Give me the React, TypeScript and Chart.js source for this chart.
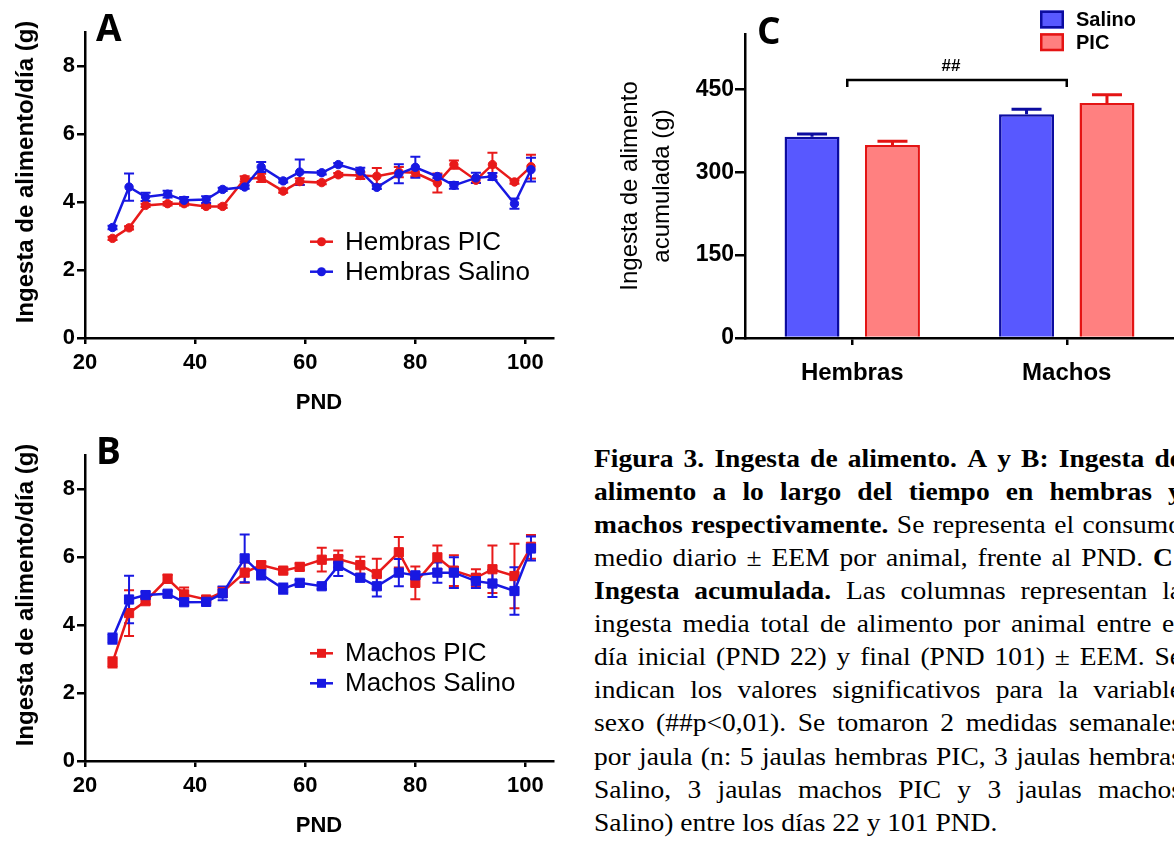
import React, { useEffect, useRef } from 'react';
import { Chart, registerables } from 'chart.js';

Chart.register(...registerables);

// ---------------- data ----------------
const pnd = [25, 28, 31, 35, 38, 42, 45, 49, 52, 56, 59, 63, 66, 70, 73, 77, 80, 84, 87, 91, 94, 98, 101];

const hembrasPIC = [2.93, 3.24, 3.9, 3.95, 3.95, 3.87, 3.87, 4.68, 4.71, 4.32, 4.6, 4.57, 4.8, 4.78, 4.76, 4.88, 4.86, 4.56, 5.1, 4.64, 5.1, 4.59, 5.04];
const hembrasPICErr = [0.05, 0.05, 0.05, 0.05, 0.05, 0.05, 0.05, 0.08, 0.12, 0.05, 0.1, 0.05, 0.05, 0.1, 0.24, 0.15, 0.1, 0.28, 0.12, 0.08, 0.35, 0.05, 0.35];
const hembrasSalino = [3.25, 4.44, 4.15, 4.23, 4.05, 4.07, 4.37, 4.44, 5.03, 4.62, 4.88, 4.86, 5.1, 4.91, 4.43, 4.83, 5.02, 4.75, 4.49, 4.71, 4.75, 3.95, 4.95];
const hembrasSalinoErr = [0.05, 0.4, 0.12, 0.1, 0.1, 0.1, 0.05, 0.05, 0.15, 0.05, 0.37, 0.05, 0.05, 0.1, 0.05, 0.28, 0.31, 0.05, 0.1, 0.15, 0.1, 0.15, 0.35];

const machosPIC = [2.9, 4.35, 4.7, 5.36, 4.9, 4.75, 4.97, 5.54, 5.76, 5.6, 5.71, 5.92, 5.94, 5.76, 5.5, 6.14, 5.24, 5.99, 5.6, 5.39, 5.64, 5.44, 6.3];
const machosPICErr = [0.15, 0.67, 0.08, 0.12, 0.2, 0.08, 0.15, 0.3, 0.1, 0.08, 0.1, 0.35, 0.25, 0.25, 0.45, 0.45, 0.48, 0.35, 0.45, 0.25, 0.7, 0.95, 0.35];
const machosSalino = [3.6, 4.75, 4.88, 4.92, 4.67, 4.68, 4.93, 5.96, 5.49, 5.07, 5.24, 5.14, 5.74, 5.39, 5.14, 5.54, 5.46, 5.54, 5.54, 5.29, 5.22, 5.0, 6.25];
const machosSalinoErr = [0.15, 0.7, 0.1, 0.08, 0.08, 0.1, 0.2, 0.7, 0.15, 0.15, 0.08, 0.08, 0.3, 0.1, 0.3, 0.4, 0.1, 0.3, 0.45, 0.2, 0.4, 0.7, 0.35];

const grupos = ['Hembras', 'Machos'];
const acumSalino = [364, 405];
const acumSalinoErr = [5, 9];
const acumPIC = [349, 425];
const acumPICErr = [7, 15];
const bracketLevel = 467;

const xTicksPND = [20, 40, 60, 80, 100];
const yTicksDiario = [0, 2, 4, 6, 8];
const yTicksAcum = [0, 150, 300, 450];

const captionLines: [string, boolean][][] = [
  [['Figura 3. Ingesta de alimento. A y B: Ingesta de', true]],
  [['alimento a lo largo del tiempo en hembras y', true]],
  [['machos respectivamente.', true], ['Se representa el consumo', false]],
  [['medio diario ± EEM por animal, frente al PND.', false], ['C:', true]],
  [['Ingesta acumulada.', true], ['Las columnas representan la', false]],
  [['ingesta media total de alimento por animal entre el', false]],
  [['día inicial (PND 22) y final (PND 101) ± EEM. Se', false]],
  [['indican los valores significativos para la variable', false]],
  [['sexo (##p<0,01). Se tomaron 2 medidas semanales', false]],
  [['por jaula (n: 5 jaulas hembras PIC, 3 jaulas hembras', false]],
  [['Salino, 3 jaulas machos PIC y 3 jaulas machos', false]],
  [['Salino) entre los días 22 y 101 PND.', false]],
];

// ---------------- style ----------------
const RED = '#e81a1a';
const BLUE = '#1818e2';
const SANS = '"Liberation Sans", Arial, sans-serif';

// ---------------- plugins ----------------
const errorBarsPlugin = {
  id: 'errorBars',
  beforeDatasetsDraw(chart: any, _args: any, o: any) {
    const ctx = chart.ctx;
    chart.data.datasets.forEach((ds: any, i: number) => {
      if (!ds.errors) return;
      const meta = chart.getDatasetMeta(i);
      const yScale = chart.scales[meta.yAxisID];
      ctx.save();
      ctx.strokeStyle = ds.borderColor;
      ctx.lineWidth = o.lineWidth || 2;
      meta.data.forEach((el: any, j: number) => {
        const raw = ds.data[j];
        const v = typeof raw === 'number' ? raw : raw.y;
        const e = ds.errors[j];
        const x = el.x;
        const yTop = yScale.getPixelForValue(v + e);
        const yBot = o.upOnly ? yScale.getPixelForValue(v) : yScale.getPixelForValue(v - e);
        const w = o.capHalf || 5;
        ctx.beginPath();
        ctx.moveTo(x, yTop);
        ctx.lineTo(x, yBot);
        ctx.moveTo(x - w, yTop);
        ctx.lineTo(x + w, yTop);
        if (!o.upOnly) {
          ctx.moveTo(x - w, yBot);
          ctx.lineTo(x + w, yBot);
        }
        ctx.stroke();
      });
      ctx.restore();
    });
  },
};

const seriesLegendPlugin = {
  id: 'seriesLegend',
  afterDraw(chart: any, _args: any, o: any) {
    if (!o || o.x === undefined) return;
    const ctx = chart.ctx;
    chart.data.datasets.forEach((ds: any, i: number) => {
      const y = o.y + i * o.gap;
      ctx.save();
      ctx.strokeStyle = ds.borderColor;
      ctx.lineWidth = 2.5;
      ctx.beginPath();
      ctx.moveTo(o.x, y);
      ctx.lineTo(o.x + o.lineLen, y);
      ctx.stroke();
      ctx.fillStyle = ds.borderColor;
      const cx = o.x + o.lineLen / 2;
      if (ds.pointStyle === 'rect') {
        const s = 4.5;
        ctx.fillRect(cx - s, y - s, 2 * s, 2 * s);
      } else {
        ctx.beginPath();
        ctx.arc(cx, y, 4.5, 0, Math.PI * 2);
        ctx.fill();
      }
      ctx.font = o.font;
      ctx.textBaseline = 'middle';
      ctx.textAlign = 'left';
      ctx.fillStyle = '#000';
      ctx.fillText(ds.label, o.textX, y + 1);
      ctx.restore();
    });
  },
};

const panelLabelPlugin = {
  id: 'panelLabel',
  afterDraw(chart: any, _args: any, o: any) {
    if (!o || !o.text) return;
    const ctx = chart.ctx;
    ctx.save();
    ctx.font = o.font;
    ctx.fillStyle = '#000';
    ctx.textBaseline = 'alphabetic';
    ctx.textAlign = 'left';
    ctx.fillText(o.text, o.x, o.y);
    ctx.restore();
  },
};

// rotated axis title, centred a little above the middle of the chart area
const sideTitlePlugin = {
  id: 'sideTitle',
  afterDraw(chart: any, _args: any, o: any) {
    if (!o || !o.text) return;
    const ctx = chart.ctx;
    const ca = chart.chartArea;
    ctx.save();
    ctx.translate(o.x, (ca.top + ca.bottom) / 2 + o.shift);
    ctx.rotate(-Math.PI / 2);
    ctx.font = o.font;
    ctx.fillStyle = '#000';
    ctx.textAlign = 'center';
    ctx.textBaseline = 'middle';
    ctx.fillText(o.text, 0, 0);
    ctx.restore();
  },
};

const bracketPlugin = {
  id: 'bracket',
  afterDraw(chart: any, _args: any, o: any) {
    if (!o || o.level === undefined) return;
    const ctx = chart.ctx;
    const xs = chart.scales.x;
    const ys = chart.scales.y;
    const x1 = xs.getPixelForValue(o.from) - 5;
    const x2 = xs.getPixelForValue(o.to);
    const y = ys.getPixelForValue(o.level);
    ctx.save();
    ctx.strokeStyle = '#000';
    ctx.lineWidth = 2.5;
    ctx.beginPath();
    ctx.moveTo(x1, y + o.drop);
    ctx.lineTo(x1, y);
    ctx.lineTo(x2, y);
    ctx.lineTo(x2, y + o.drop);
    ctx.stroke();
    ctx.font = o.font;
    ctx.fillStyle = '#000';
    ctx.textAlign = 'center';
    ctx.textBaseline = 'alphabetic';
    ctx.fillText(o.text, (x1 + x2) / 2 - 6, y - 9);
    ctx.restore();
  },
};

const boxLegendPlugin = {
  id: 'boxLegend',
  afterDraw(chart: any, _args: any, o: any) {
    if (!o || o.x === undefined) return;
    const ctx = chart.ctx;
    chart.data.datasets.forEach((ds: any, i: number) => {
      const top = o.y + i * o.gap;
      ctx.save();
      ctx.fillStyle = ds.backgroundColor;
      ctx.fillRect(o.x, top, o.w, o.h);
      ctx.strokeStyle = ds.borderColor;
      ctx.lineWidth = 2.5;
      ctx.strokeRect(o.x + 1.25, top + 1.25, o.w - 2.5, o.h - 2.5);
      ctx.font = o.font;
      ctx.fillStyle = '#000';
      ctx.textBaseline = 'middle';
      ctx.textAlign = 'left';
      ctx.fillText(ds.label, o.textX, top + o.h / 2 + 1);
      ctx.restore();
    });
  },
};

// ---------------- configs ----------------
const axisBorder = { display: true, color: '#000', width: 2.5 };

function lineConfig(
  labels: [string, string],
  pic: number[],
  picErr: number[],
  sal: number[],
  salErr: number[],
  pointStyle: string,
  panel: string,
  legendY: number
): any {
  const radius = pointStyle === 'rect' ? 6.5 : 4.2;
  return {
    type: 'line',
    data: {
      datasets: [
        {
          label: labels[0],
          data: pnd.map((x, i) => ({ x, y: pic[i] })),
          errors: picErr,
          borderColor: RED,
          backgroundColor: RED,
          pointBackgroundColor: RED,
          pointBorderColor: RED,
          pointStyle,
          pointRadius: radius,
          pointBorderWidth: 1,
          borderWidth: 2.5,
          tension: 0,
          order: 1,
        },
        {
          label: labels[1],
          data: pnd.map((x, i) => ({ x, y: sal[i] })),
          errors: salErr,
          borderColor: BLUE,
          backgroundColor: BLUE,
          pointBackgroundColor: BLUE,
          pointBorderColor: BLUE,
          pointStyle,
          pointRadius: radius,
          pointBorderWidth: 1,
          borderWidth: 2.5,
          tension: 0,
          order: 0,
        },
      ],
    },
    options: {
      animation: false,
      responsive: false,
      events: [],
      layout: { padding: { top: 32, right: 17, left: 0, bottom: 0 } },
      scales: {
        x: {
          type: 'linear',
          min: 20,
          max: 105,
          afterBuildTicks: (s: any) => {
            s.ticks = xTicksPND.map((v) => ({ value: v }));
          },
          afterFit: (s: any) => {
            s.height = 82;
          },
          border: axisBorder,
          grid: { display: true, drawOnChartArea: false, drawTicks: true, tickLength: 6, tickWidth: 2.5, lineWidth: 2.5, tickColor: '#000', color: '#000' },
          ticks: { color: '#000', padding: 6, font: { family: SANS, size: 22, weight: 'bold' } },
          title: { display: true, text: 'PND', color: '#000', font: { family: SANS, size: 22, weight: 'bold' }, padding: { top: 0, bottom: 4 } },
        },
        y: {
          min: 0,
          max: 9,
          afterBuildTicks: (s: any) => {
            s.ticks = yTicksDiario.map((v) => ({ value: v }));
          },
          afterFit: (s: any) => {
            s.width = 85;
          },
          border: axisBorder,
          grid: { display: true, drawOnChartArea: false, drawTicks: true, tickLength: 8, tickWidth: 2.5, lineWidth: 2.5, tickColor: '#000', color: '#000' },
          ticks: { color: '#000', padding: 2, font: { family: SANS, size: 22, weight: 'bold' } },
        },
      },
      plugins: {
        legend: { display: false },
        tooltip: { enabled: false },
        errorBars: { lineWidth: 2, capHalf: 5 },
        seriesLegend: { x: 310, y: legendY, gap: 30, lineLen: 23, textX: 345, font: `26px ${SANS}` },
        panelLabel: { text: panel, x: 96, y: 41, font: 'bold 37px "Open Sans", sans-serif' },
        sideTitle: { text: 'Ingesta de alimento/día (g)', x: 26, shift: -13, font: `bold 24px ${SANS}` },
      },
    },
    plugins: [errorBarsPlugin, seriesLegendPlugin, panelLabelPlugin, sideTitlePlugin],
  };
}

function barConfig(): any {
  return {
    type: 'bar',
    data: {
      labels: grupos,
      datasets: [
        {
          label: 'Salino',
          data: acumSalino,
          errors: acumSalinoErr,
          backgroundColor: '#5858ff',
          borderColor: '#0c0ca0',
          borderWidth: 2.5,
          categoryPercentage: 0.75,
          barPercentage: 0.683,
        },
        {
          label: 'PIC',
          data: acumPIC,
          errors: acumPICErr,
          backgroundColor: '#ff8080',
          borderColor: '#e41414',
          borderWidth: 2.5,
          categoryPercentage: 0.75,
          barPercentage: 0.683,
        },
      ],
    },
    options: {
      animation: false,
      responsive: false,
      events: [],
      layout: { padding: { top: 34, right: 0, left: 0, bottom: 0 } },
      scales: {
        x: {
          afterFit: (s: any) => {
            s.height = 82;
          },
          border: axisBorder,
          grid: { display: true, offset: false, drawOnChartArea: false, drawTicks: true, tickLength: 7, tickWidth: 2.5, lineWidth: 2.5, tickColor: '#000', color: '#000' },
          ticks: { color: '#000', padding: 14, font: { family: SANS, size: 24, weight: 'bold' } },
        },
        y: {
          min: 0,
          max: 550,
          afterBuildTicks: (s: any) => {
            s.ticks = yTicksAcum.map((v) => ({ value: v }));
          },
          afterFit: (s: any) => {
            s.width = 145;
          },
          border: axisBorder,
          grid: { display: true, drawOnChartArea: false, drawTicks: true, tickLength: 10, tickWidth: 2.5, lineWidth: 2.5, tickColor: '#000', color: '#000' },
          ticks: { color: '#000', padding: 1, font: { family: SANS, size: 23, weight: 'bold' } },
          title: {
            display: true,
            text: ['Ingesta de alimento', 'acumulada (g)'],
            color: '#000',
            font: { family: SANS, size: 24, lineHeight: 1.33 },
            padding: { top: 14, bottom: 0 },
          },
        },
      },
      plugins: {
        legend: { display: false },
        tooltip: { enabled: false },
        errorBars: { lineWidth: 3, capHalf: 15, upOnly: true },
        bracket: { level: bracketLevel, from: 0, to: 1, drop: 7, text: '##', font: `bold 17px ${SANS}` },
        boxLegend: { x: 440, y: 10.5, gap: 22.7, w: 24, h: 18, textX: 476, font: `bold 20px ${SANS}` },
        panelLabel: { text: 'C', x: 157, y: 44, font: 'bold 37px "Open Sans", sans-serif' },
      },
    },
    plugins: [errorBarsPlugin, bracketPlugin, boxLegendPlugin, panelLabelPlugin],
  };
}

function ChartCanvas({ config, width, height, left, top }: { config: () => any; width: number; height: number; left: number; top: number }) {
  const ref = useRef<HTMLCanvasElement | null>(null);
  useEffect(() => {
    if (!ref.current) return;
    const chart = new Chart(ref.current, config());
    return () => chart.destroy();
  }, []);
  return (
    <canvas
      ref={ref}
      width={width}
      height={height}
      style={{ position: 'absolute', left, top, width, height }}
    />
  );
}

function Caption() {
  const lineH = 33.1;
  const sx = 1.1;
  const boxW = 588 / sx;
  return (
    <div
      style={{
        position: 'absolute',
        left: 594,
        top: 441.7,
        width: boxW,
        transform: `scaleX(${sx})`,
        transformOrigin: 'left top',
      }}
    >
      {captionLines.map((segs, i) => {
        const last = i === captionLines.length - 1;
        const words: { w: string; b: boolean }[] = [];
        segs.forEach(([t, b]) => t.split(' ').forEach((w) => words.push({ w, b })));
        return (
          <div
            key={i}
            style={{
              position: 'absolute',
              left: 0,
              top: i * lineH,
              width: boxW,
              height: lineH,
              lineHeight: `${lineH}px`,
              fontFamily: '"Liberation Serif", "Times New Roman", serif',
              fontSize: 25,
              color: '#000',
              display: 'flex',
              justifyContent: last ? 'flex-start' : 'space-between',
              columnGap: last ? '0.25em' : '0.1em',
              whiteSpace: 'nowrap',
            }}
          >
            {words.map((wd, k) => (
              <span key={k} style={{ fontWeight: wd.b ? 'bold' : 'normal' }}>
                {wd.w}
              </span>
            ))}
          </div>
        );
      })}
    </div>
  );
}

export default function App() {
  return (
    <div
      style={{
        position: 'fixed',
        left: 0,
        top: 0,
        width: 1174,
        height: 843,
        overflow: 'hidden',
        background: '#fff',
      }}
    >
      <ChartCanvas
        config={() => lineConfig(['Hembras PIC', 'Hembras Salino'], hembrasPIC, hembrasPICErr, hembrasSalino, hembrasSalinoErr, 'circle', 'A', 241.7)}
        width={570}
        height={420}
        left={0}
        top={0}
      />
      <ChartCanvas
        config={() => lineConfig(['Machos PIC', 'Machos Salino'], machosPIC, machosPICErr, machosSalino, machosSalinoErr, 'rect', 'B', 230.3)}
        width={570}
        height={420}
        left={0}
        top={423}
      />
      <ChartCanvas config={barConfig} width={574} height={420} left={600} top={0} />
      <Caption />
    </div>
  );
}
